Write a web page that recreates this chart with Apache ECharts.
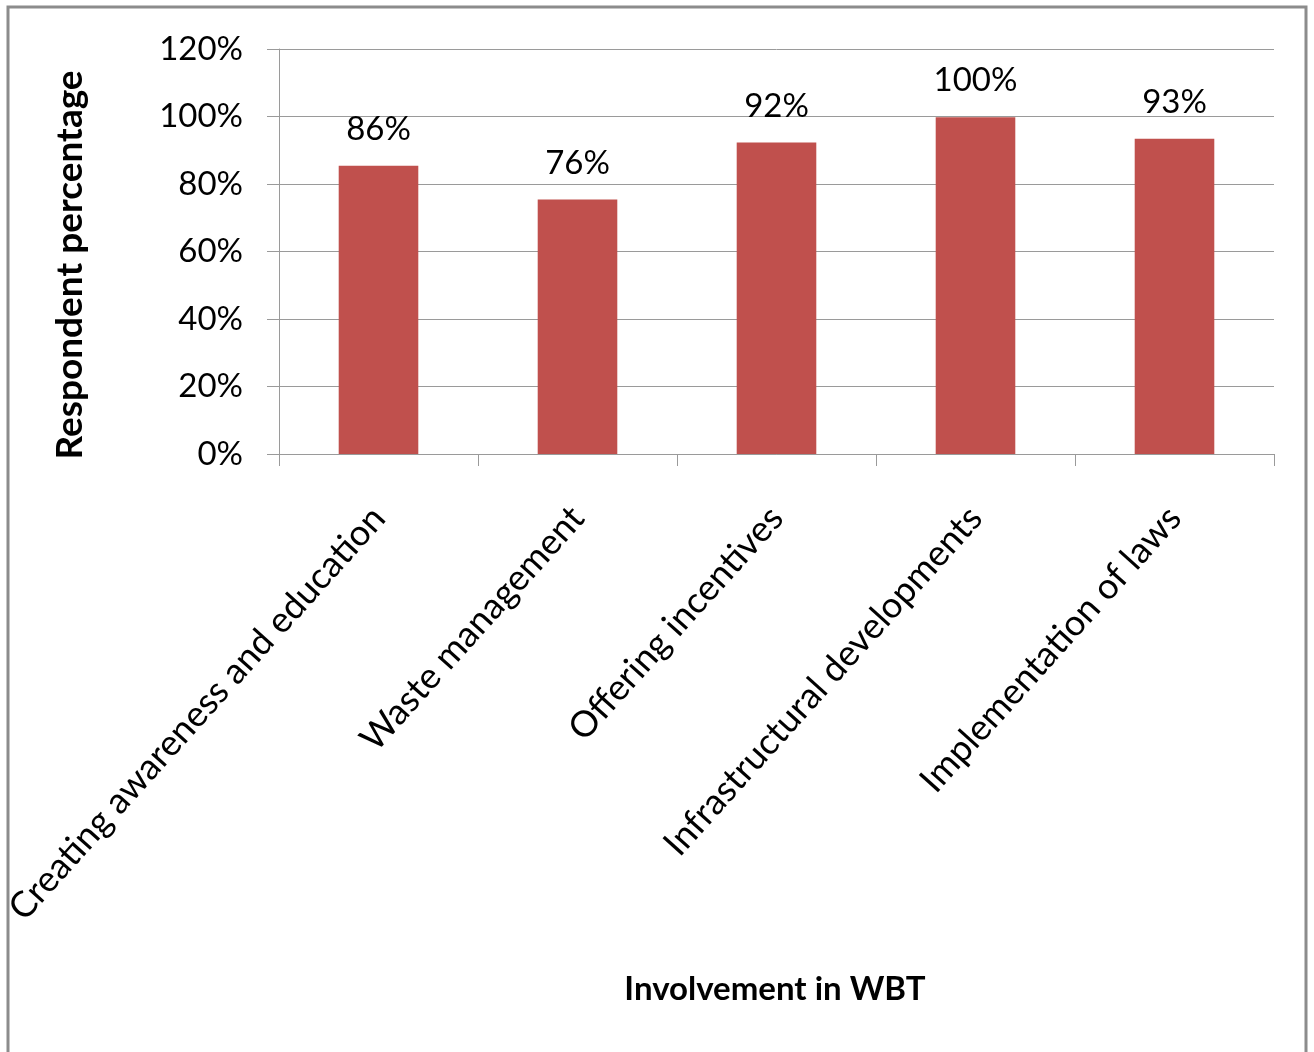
<!DOCTYPE html>
<html>
<head>
<meta charset="utf-8">
<style>
  html, body { margin: 0; padding: 0; background: #ffffff; }
  #chart { width: 1314px; height: 1052px; }
</style>
<script src="https://cdn.jsdelivr.net/npm/echarts@6/dist/echarts.min.js"></script>
</head>
<body>
<div id="chart"></div>
<script>
const categories = [
  "Creating awareness and education",
  "Waste management",
  "Offering incentives",
  "Infrastructural developments",
  "Implementation of laws"
];
// bar heights (percent)
const barValues = [85.4, 75.4, 92.3, 99.8, 93.4];
// data labels as printed in the picture
const barLabels = ["86%", "76%", "92%", "100%", "93%"];
const yTicks = { min: 0, max: 120, interval: 20 };
const yTitle = "Respondent percentage";
const xTitle = "Involvement in WBT";

const FONT = "Lato";
const chart = echarts.init(document.getElementById('chart'), null, { renderer: 'canvas' });

chart.setOption({
  backgroundColor: '#ffffff',
  animation: false,
  grid: { left: 279, right: 40, top: 49, bottom: 598, containLabel: false },
  xAxis: {
    type: 'category',
    data: categories,
    boundaryGap: true,
    axisLine: { show: true, lineStyle: { color: '#9a9a9a', width: 1 } },
    axisTick: { show: true, length: 12, inside: false, lineStyle: { color: '#9a9a9a' } },
    axisLabel: {
      interval: 0,
      rotate: 48,
      margin: 58,
      color: '#000000',
      fontFamily: FONT,
      fontSize: 36
    },
    splitLine: { show: false }
  },
  yAxis: {
    type: 'value',
    min: yTicks.min,
    max: yTicks.max,
    interval: yTicks.interval,
    axisLine: { show: true, lineStyle: { color: '#9a9a9a', width: 1 } },
    axisTick: { show: true, length: 12, lineStyle: { color: '#9a9a9a' } },
    axisLabel: {
      formatter: '{value}%',
      margin: 36,
      color: '#000000',
      fontFamily: FONT,
      fontSize: 33
    },
    splitLine: { show: true, lineStyle: { color: '#9a9a9a', width: 1 } }
  },
  series: [{
    type: 'bar',
    data: barValues,
    barWidth: '40%',
    itemStyle: { color: '#c0504d' },
    label: {
      show: true,
      position: 'top',
      distance: 20,
      color: '#000000',
      fontFamily: FONT,
      fontSize: 33,
      formatter: function (p) { return barLabels[p.dataIndex]; }
    }
  }],
  graphic: [
    {
      type: 'rect',
      silent: true,
      shape: { x: 8, y: 7, width: 1298, height: 1060 },
      style: { fill: 'none', stroke: '#8c8c8c', lineWidth: 3 }
    },
    {
      type: 'text',
      x: 70, y: 265,
      rotation: Math.PI / 2,
      style: {
        text: yTitle,
        fontFamily: FONT, fontSize: 37, fontWeight: 'bold',
        fill: '#000000', align: 'center', verticalAlign: 'middle'
      }
    },
    {
      type: 'text',
      x: 775, y: 989,
      style: {
        text: xTitle,
        fontFamily: FONT, fontSize: 33, fontWeight: 'bold',
        fill: '#000000', align: 'center', verticalAlign: 'middle'
      }
    }
  ]
});
</script>
</body>
</html>
